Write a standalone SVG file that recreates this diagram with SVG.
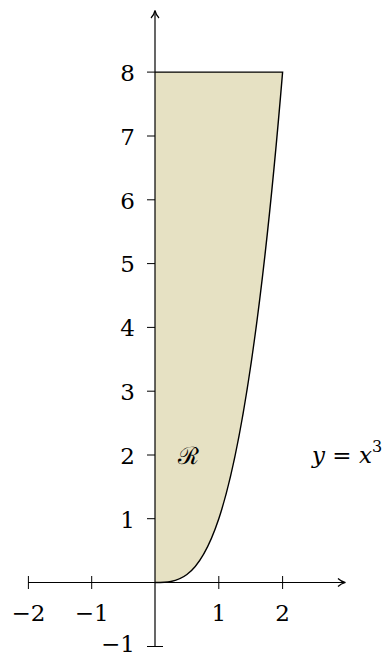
<svg xmlns="http://www.w3.org/2000/svg" width="390" height="657" viewBox="0 0 390 657">
<style>
.ax{stroke:#000;stroke-width:1.2;fill:none}
.tk{stroke:#000;stroke-width:1;fill:none}
</style>
<rect width="390" height="657" fill="#fff"/>
<g id="region">
<path d="M155,582.5 C197.53,582.5 240.07,582.5 282.6,72.1 L155,72.1 Z" fill="#e6e1c3" stroke="none"/>
</g>
<g id="axes">
<line class="ax" x1="28" y1="582.5" x2="344" y2="582.5"/>
<path d="M338,578.5 Q341,581.5 345.5,582.5 Q341,583.5 338,586.5" fill="none" stroke="#000" stroke-width="1.2"/>
<line class="ax" x1="155" y1="646.5" x2="155" y2="12"/>
<path d="M151,18 Q154,15 155,10.5 Q156,15 159,18" fill="none" stroke="#000" stroke-width="1.2"/>
<g class="tk">
<line x1="28.4" y1="576" x2="28.4" y2="589"/>
<line x1="91.7" y1="576" x2="91.7" y2="589"/>
<line x1="218.8" y1="576" x2="218.8" y2="589"/>
<line x1="282.6" y1="576" x2="282.6" y2="589"/>
<line x1="147" y1="646.5" x2="163" y2="646.5"/>
<line x1="147" y1="518.7" x2="155" y2="518.7"/>
<line x1="147" y1="455" x2="155" y2="455"/>
<line x1="147" y1="391.2" x2="155" y2="391.2"/>
<line x1="147" y1="327.4" x2="155" y2="327.4"/>
<line x1="147" y1="263.6" x2="155" y2="263.6"/>
<line x1="147" y1="199.8" x2="155" y2="199.8"/>
<line x1="147" y1="136" x2="155" y2="136"/>
<line x1="147" y1="72.1" x2="155" y2="72.1"/>
</g>
</g>
<g id="curve">
<path d="M155,582.5 C197.53,582.5 240.07,582.5 282.6,72.1 L155,72.1" fill="none" stroke="#000" stroke-width="1.4"/>
</g>
<g id="labels" font-family="DejaVu Serif, serif" font-size="23" fill="#000">
<text x="28.4" y="621" text-anchor="middle">−2</text>
<text x="91.7" y="621" text-anchor="middle">−1</text>
<text x="218.8" y="621" text-anchor="middle">1</text>
<text x="282.6" y="621" text-anchor="middle">2</text>
<text x="135" y="652" text-anchor="end">−1</text>
<text x="135" y="527.5" text-anchor="end">1</text>
<text x="135" y="463.8" text-anchor="end">2</text>
<text x="135" y="400" text-anchor="end">3</text>
<text x="135" y="336.2" text-anchor="end">4</text>
<text x="135" y="272.4" text-anchor="end">5</text>
<text x="135" y="208.6" text-anchor="end">6</text>
<text x="135" y="144.8" text-anchor="end">7</text>
<text x="135" y="80.9" text-anchor="end">8</text>
<text x="188" y="464" text-anchor="middle" font-size="24">ℛ</text>
<text x="312" y="463" font-style="italic">y <tspan font-style="normal">=</tspan> x<tspan font-style="normal" font-size="16" dy="-11">3</tspan></text>
</g>
</svg>
